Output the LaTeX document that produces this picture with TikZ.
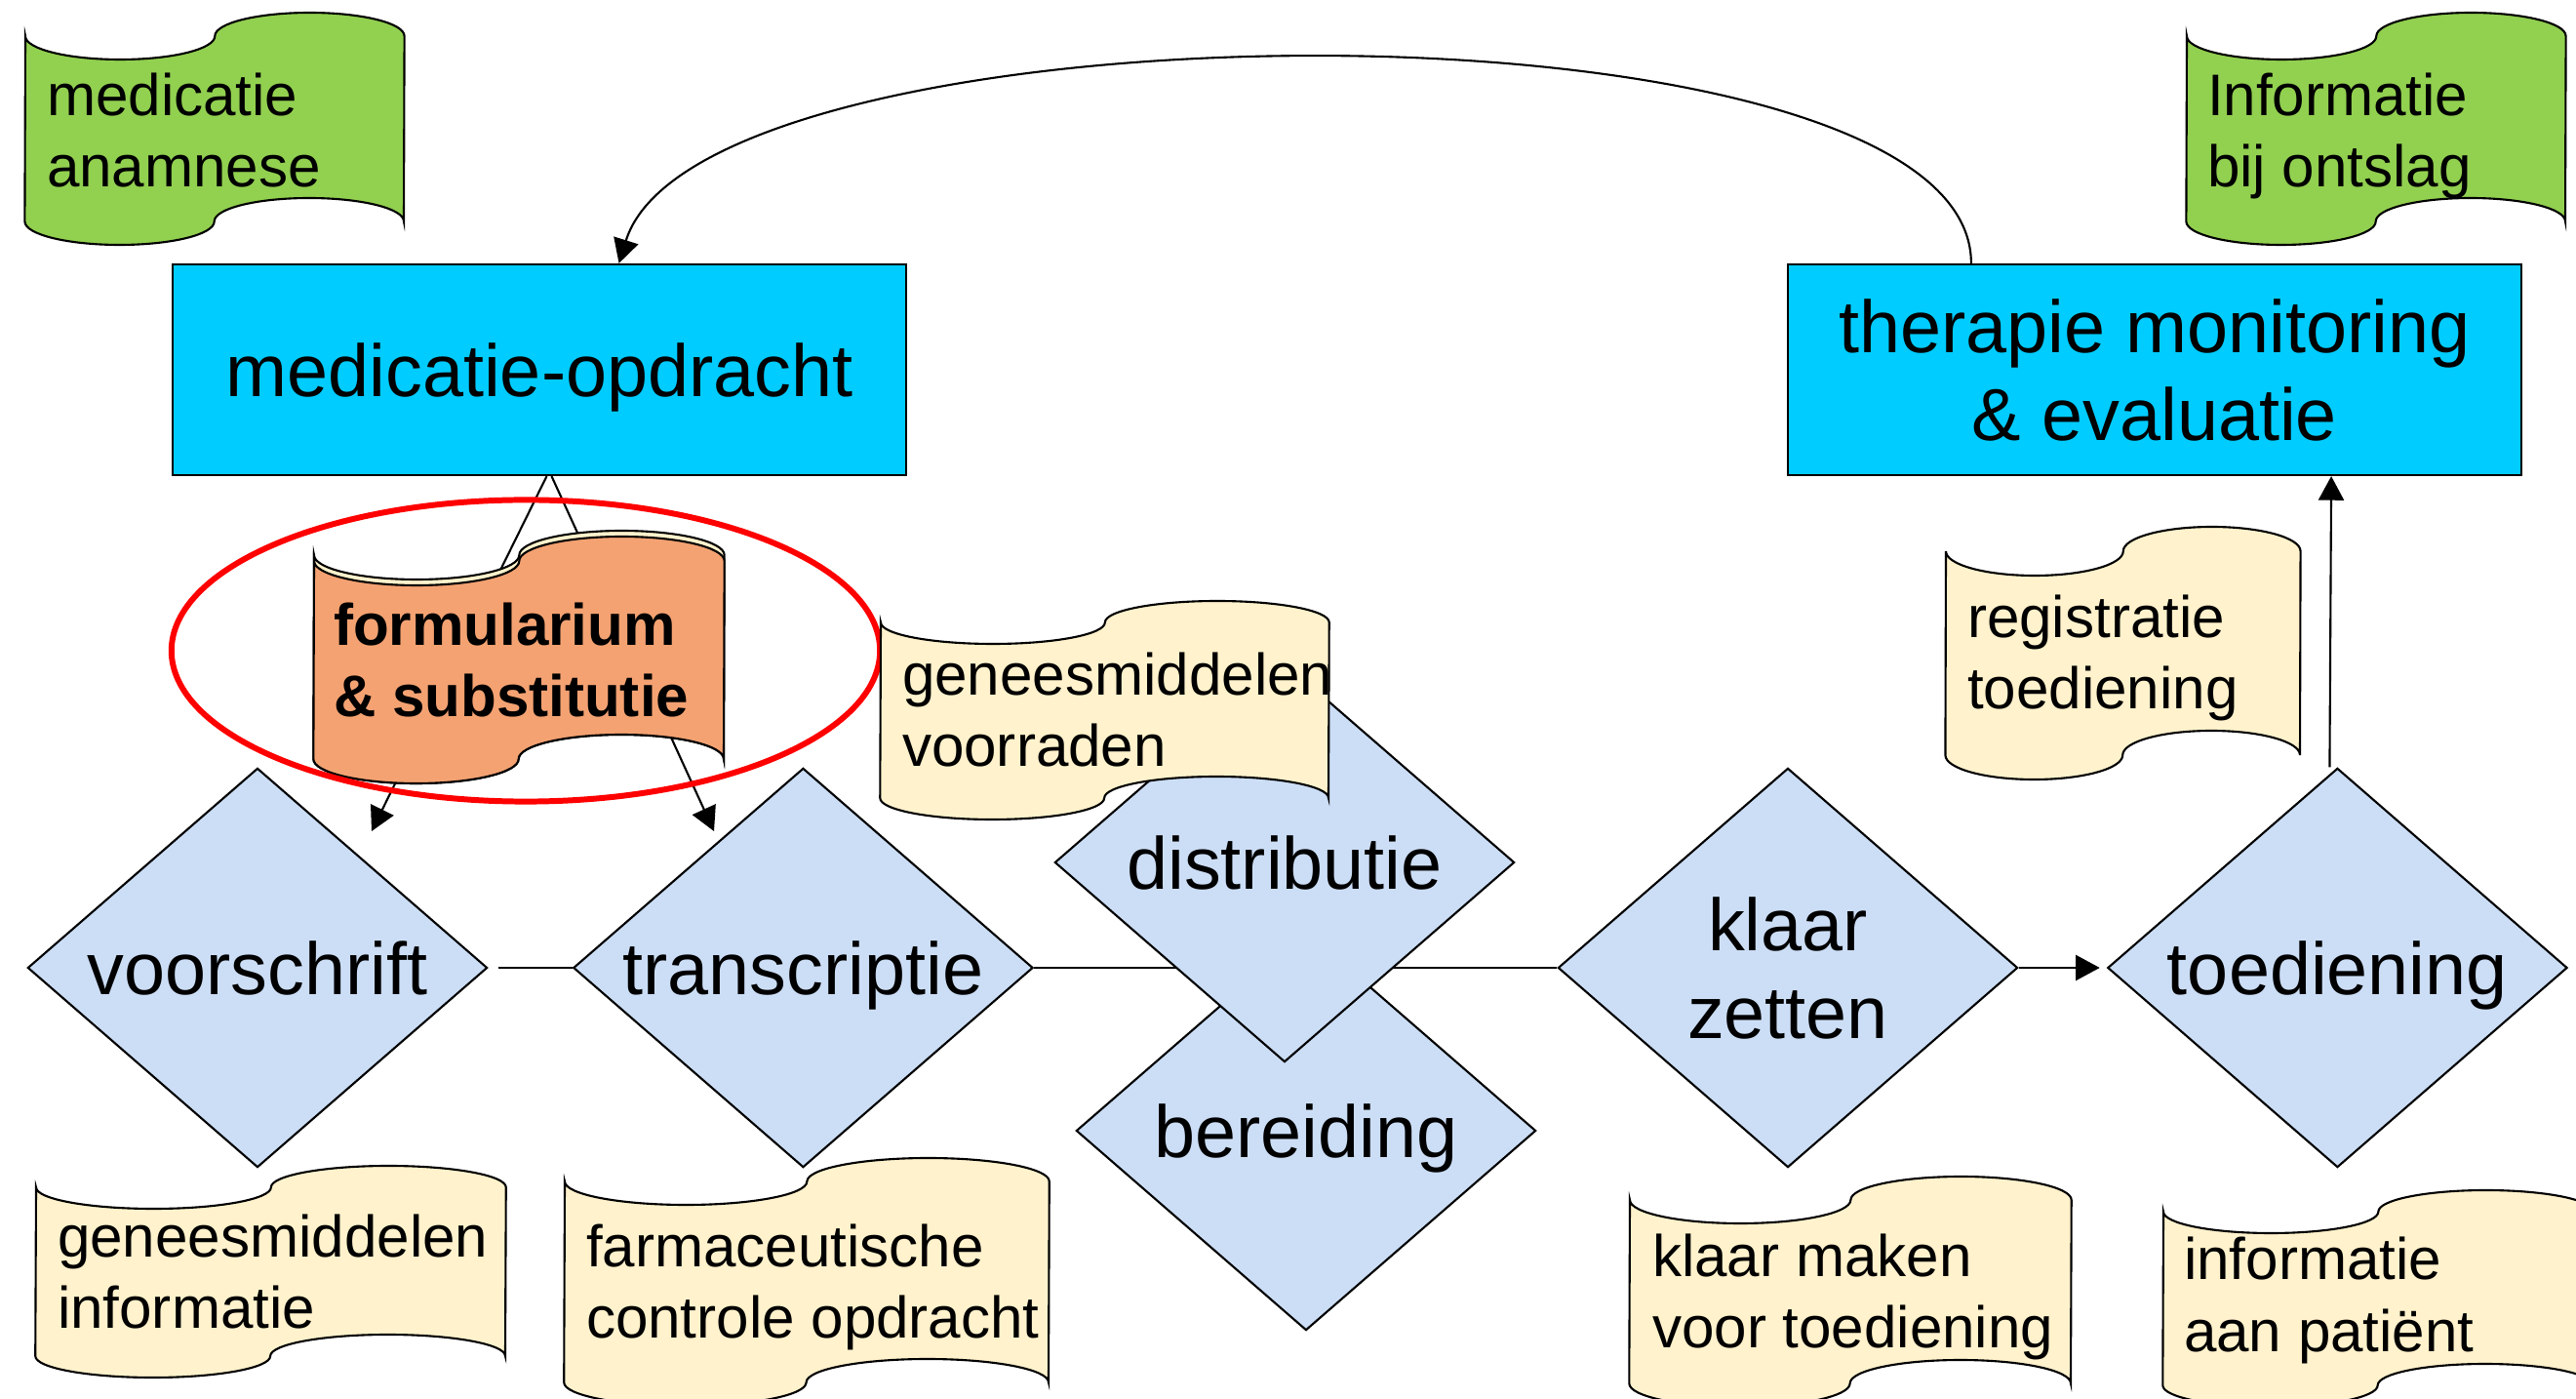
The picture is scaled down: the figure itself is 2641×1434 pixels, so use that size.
\documentclass[tikz,border=0pt]{standalone}
\usepackage{fontspec}
\setmainfont{Liberation Sans}
\usetikzlibrary{positioning}
\usetikzlibrary{arrows.meta}
\usetikzlibrary{shapes.geometric}

\definecolor{boxblue}{RGB}{0,204,255}
\definecolor{stepblue}{RGB}{204,222,246}
\definecolor{tapegreen}{RGB}{146,208,80}
\definecolor{tapecream}{RGB}{255,242,204}
\definecolor{tapeorange}{RGB}{244,162,114}

% punched tape: left x, width, top, bottom, wave height, style
\newcommand{\papertape}[6]{%
  \pgfmathsetmacro\tapeq{#2*0.0025}%
  \pgfmathsetmacro\tapea{#5*0.01}%
  \path[#6] (#1,#3)
    arc[start angle=180,end angle=360,x radius=\tapeq cm,y radius=\tapea cm]
    arc[start angle=180,end angle=0,x radius=\tapeq cm,y radius=\tapea cm]
    -- (#1+#2,#4)
    arc[start angle=0,end angle=180,x radius=\tapeq cm,y radius=\tapea cm]
    arc[start angle=0,end angle=-180,x radius=\tapeq cm,y radius=\tapea cm]
    -- cycle;}

\begin{document}
\begin{tikzpicture}[x=0.01cm,y=-0.01cm,line width=0.6pt,
  bigtext/.style={font=\fontsize{21.5}{25.6}\selectfont,text depth=0pt},
  tapetext/.style={font=\fontsize{17.1}{21}\selectfont,align=left,anchor=base west,inner sep=0pt},
  taskbox/.style={draw,fill=boxblue,minimum width=7.52cm,minimum height=2.16cm,align=center,bigtext},
  stepbox/.style={draw,fill=stepblue,diamond,aspect=1.15,inner sep=0pt,minimum width=4.71cm,minimum height=4.09cm,align=center,bigtext},
  flow/.style={-{Triangle[length=7pt,width=7.4pt]}}]
\useasboundingbox (0,0) rectangle (2641,1434);

% green tapes
\papertape{26}{388}{37}{227}{24}{draw,fill=tapegreen}
\node[tapetext] (anamnese) at (47,192) {medicatie\\anamnese};
\papertape{2242}{388}{37}{227}{24}{draw,fill=tapegreen}
\node[tapetext] (ontslag) at (2262,192) {Informatie\\bij ontslag};

% blue boxes
\node[taskbox] (opdracht) at (553,379) {medicatie-opdracht};
\node[taskbox] (therapie) at (2209,379) {therapie monitoring\\\& evaluatie};
\draw[flow] ([xshift=-1.88cm]therapie.north) .. controls (2021,-15) and (720,-5) .. ([xshift=0.815cm]opdracht.north);

% process steps
\node[stepbox] (voorschrift) at (264,992) {voorschrift};
\node[stepbox, right=0.86cm of voorschrift] (transcriptie) {transcriptie};
\node[stepbox] (bereiding) at (1339,1159) {bereiding};
\node[stepbox] (klaarzetten) at (1833,992) {klaar\\zetten};
\node[stepbox, right=0.9cm of klaarzetten] (toediening) {toediening};

\draw[shorten <=0.1cm] (voorschrift) -- (transcriptie);
\draw (transcriptie) -- (klaarzetten);
\draw[flow, shorten >=2pt] (klaarzetten) -- (toediening);
\draw[flow] ([xshift=-0.08cm]toediening.north) -- ([xshift=1.81cm]therapie.south);

\node[stepbox] (distributie) at (1317,884) {distributie};

% formularium
\coordinate (vtip) at (381,852);
\coordinate (ttip) at (732,852);
\draw[flow] ([xshift=0.075cm]opdracht.south) -- (vtip);
\draw[flow] ([xshift=0.125cm]opdracht.south) -- (ttip);
\papertape{322}{420}{569}{778}{25}{draw,fill=tapecream}
\papertape{322}{420}{575}{778}{25}{draw,fill=tapeorange}
\node[tapetext, font=\fontsize{17.1}{21}\selectfont\bfseries] (formularium) at (341,735) {formularium\\\& substitutie};
\draw[red, line width=1.7pt] (539,667) ellipse [x radius=3.63cm, y radius=1.545cm];

% cream tapes
\papertape{903}{459}{638}{818}{22}{draw,fill=tapecream}
\node[tapetext] (voorraden) at (924,786) {geneesmiddelen\\voorraden};
\papertape{1995}{363}{565}{774}{25}{draw,fill=tapecream}
\node[tapetext] (registratie) at (2016,727) {registratie\\toediening};
\papertape{37}{481}{1217}{1390}{22}{draw,fill=tapecream}
\node[tapetext] (gminfo) at (58,1362) {geneesmiddelen\\informatie};
\papertape{579}{496}{1211}{1417}{24}{draw,fill=tapecream}
\node[tapetext] (controle) at (600,1372) {farmaceutische\\controle opdracht};
\papertape{1671}{452}{1230}{1418}{24}{draw,fill=tapecream}
\node[tapetext] (klaarmaken) at (1693,1382) {klaar maken\\voor toediening};
\papertape{2218}{440}{1242}{1420}{22}{draw,fill=tapecream}
\node[tapetext] (patient) at (2238,1385) {informatie\\aan patiënt};
\end{tikzpicture}
\end{document}
